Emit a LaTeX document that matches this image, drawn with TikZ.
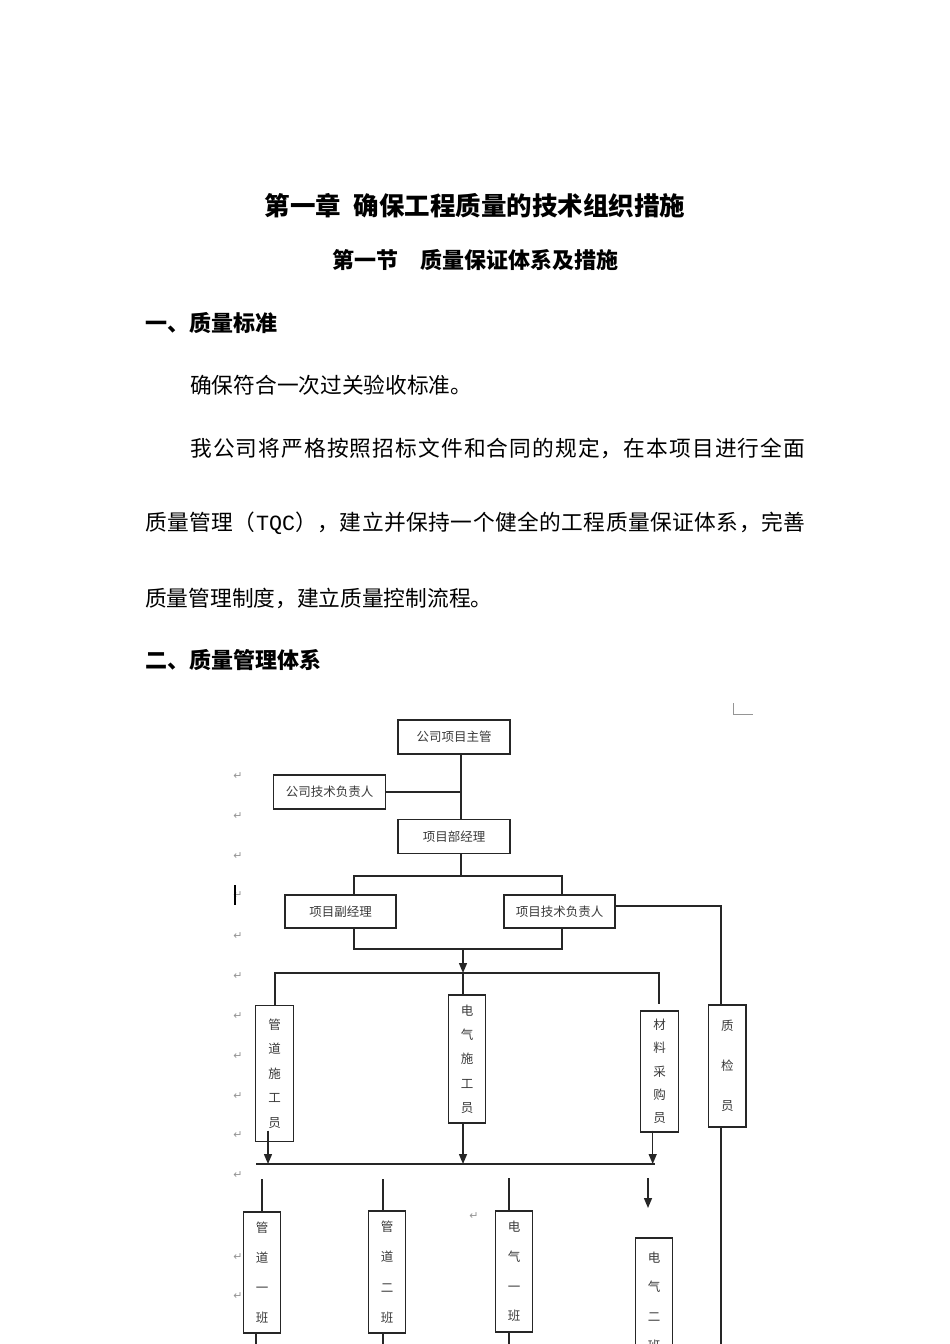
\documentclass[tikz,border=0pt]{standalone}
\usepackage{fontspec}
\setmainfont{Noto Sans CJK SC}
\newfontfamily\cjk{Noto Sans CJK SC}
\newfontfamily\mono{Liberation Mono}
\newfontfamily\sym{DejaVu Sans}
\usetikzlibrary{arrows.meta}
\definecolor{linec}{HTML}{262626}
\definecolor{boxtext}{HTML}{3A3A3A}
\definecolor{markc}{HTML}{959595}
\makeatletter
\def\jline#1#2{\hbox to #1{\j@first#2\relax}}
\def\j@first#1{#1\j@rest}
\def\j@rest#1{\ifx#1\relax\else\hfil#1\expandafter\j@rest\fi}
\makeatother
\newcommand\TQC{{\mono TQC}}
\tikzset{
  conn/.style={draw=linec, line width=1.4pt},
  arr/.style={conn, -{Triangle[length=10pt,width=8pt]}},
  orgbox/.style={draw=linec, line width=1.4pt, inner sep=0pt, text=boxtext},
  hbox/.style={orgbox, minimum width=112pt, minimum height=34pt, font=\fontsize{12.5}{14}\selectfont},
  vbox/.style={orgbox, minimum width=37.5pt, align=center},
  retmark/.style={text=markc, font=\sym\fontsize{11}{12}\selectfont, inner sep=0pt},
  body/.style={anchor=west, inner sep=0pt, font=\fontsize{21.7}{26}\selectfont, text=black},
  head/.style={anchor=west, inner sep=0pt, font=\bfseries\fontsize{22}{26}\selectfont, text=black},
}
\begin{document}
\begin{tikzpicture}[x=1pt, y=-1pt]
\useasboundingbox (0,0) rectangle (950,1344);
\fill[white] (0,0) rectangle (950,1344);
\clip (0,0) rectangle (950,1344);

% ---------- text ----------
\node[inner sep=0pt, font=\bfseries\fontsize{25.5}{30}\selectfont] (title) at (475,206) {第一章\hspace{0.5em}确保工程质量的技术组织措施};
\node[inner sep=0pt, font=\bfseries\fontsize{22}{26}\selectfont] (sub) at (475,260) {第一节\hspace{1em}质量保证体系及措施};
\node[head] (h1) at (145,323) {一、质量标准};
\node[body] (p1) at (190,385) {确保符合一次过关验收标准。};
\node[body] (p2) at (190,448) {\jline{615pt}{我公司将严格按照招标文件和合同的规定，在本项目进行全面}};
\node[body] (p3) at (145,523) {\jline{660pt}{质量管理（\TQC），建立并保持一个健全的工程质量保证体系，完善}};
\node[body] (p4) at (145,598) {质量管理制度，建立质量控制流程。};
\node[head] (h2) at (145,660) {二、质量管理体系};

% ---------- word artifacts ----------
\draw[markc, line width=0.8pt] (733,703) -- (733,714) -- (753,714);
\foreach \yy [count=\i] in {776,816,856,895,936,976,1016,1056,1096,1135,1175,1257,1296}
  \node[retmark] (ret\i) at (238,\yy) {↵};
\node[retmark] (retm) at (474,1216) {↵};
\draw[black, line width=2.4pt] (235,885) -- (235,905);

% ---------- boxes ----------
\node[hbox] (zg)    at (454,737)   {公司项目主管};
\node[hbox] (jsfz)  at (329.5,792) {公司技术负责人};
\node[hbox] (xmjl)  at (454,836.5) {项目部经理};
\node[hbox, minimum width=111pt, minimum height=33pt] (fjl)   at (340.5,911.5) {项目副经理};
\node[hbox, minimum width=111pt, minimum height=33pt] (jsfzr) at (559.5,911.5) {项目技术负责人};

\node[vbox, minimum height=136pt, font=\fontsize{12.5}{24.6}\selectfont] (gdsg) at (274.5,1073.5) {管\\道\\施\\工\\员};
\node[vbox, minimum height=128pt, font=\fontsize{12.5}{24.3}\selectfont] (dqsg) at (467,1059) {电\\气\\施\\工\\员};
\node[vbox, minimum height=121pt, font=\fontsize{12.5}{23.3}\selectfont] (clcg) at (659.5,1071.3) {材\\料\\采\\购\\员};
\node[vbox, minimum height=121.7pt, font=\fontsize{12.5}{40}\selectfont] (zj) at (727.3,1066) {质\\检\\员};

\node[vbox, minimum height=121pt, font=\fontsize{12.5}{30}\selectfont] (gd1) at (262,1272.5) {管\\道\\一\\班};
\node[vbox, minimum height=122pt, font=\fontsize{12.5}{30.5}\selectfont] (gd2) at (387,1272) {管\\道\\二\\班};
\node[vbox, minimum height=121pt, font=\fontsize{12.5}{29.7}\selectfont] (dq1) at (514,1271.5) {电\\气\\一\\班};
\node[vbox, minimum height=128pt, font=\fontsize{12.5}{29.5}\selectfont] (dq2) at (654,1302) {电\\气\\二\\班};

% ---------- helper coordinates ----------
\coordinate (t1) at (461,0);
\coordinate (xA) at (354,876);
\coordinate (xB) at (562,876);
\coordinate (yA) at (354,949);
\coordinate (yB) at (562,949);
\coordinate (m)  at (463,949);
\coordinate (hL) at (275,973);
\coordinate (hR) at (659,973);
\coordinate (qx) at (721,0);
\coordinate (bot) at (0,1360);
\coordinate (h2L) at (256,1164);
\coordinate (h2R) at (655,1164);
\coordinate (u1) at (262,1179);
\coordinate (u2) at (383,1179);
\coordinate (u3) at (509,1178);
\coordinate (u4) at (648,1178);
\coordinate (u4e) at (648,1208);

% ---------- connectors ----------
\draw[conn] (zg.south -| t1) -- (xmjl.north -| t1);
\draw[conn] (jsfz.east) -- (jsfz.east -| t1);
\draw[conn] (xmjl.south -| t1) -- (t1 |- xA);
\draw[conn] (fjl.north -| xA) -- (xA) -- (xB) -- (jsfzr.north -| xB);
\draw[conn] (fjl.south -| yA) -- (yA) -- (yB) -- (jsfzr.south -| yB);
\draw[arr] (m) -- (m |- hL);
\draw[conn] (gdsg.north -| hL) -- (hL) -- (hR) -- (hR |- zj.north);
\draw[conn] (m |- hL) -- (dqsg.north -| m);
\draw[conn] ([yshift=5.5pt]jsfzr.east) -| (zj.north -| qx);
\draw[conn] (zj.south -| qx) -- (qx |- bot);

\draw[arr] ([xshift=-6.5pt,yshift=11.7pt]gdsg.south) -- (268,1164);
\draw[arr] (dqsg.south -| m) -- (m |- h2L);
\draw[arr] ([xshift=-6.8pt,yshift=2pt]clcg.south) -- (652.7,1164);
\draw[conn] (h2L) -- (h2R);

\draw[conn] (u1) -- (u1 |- gd1.north);
\draw[conn] (u2) -- (u2 |- gd2.north);
\draw[conn] (u3) -- (u3 |- dq1.north);
\draw[arr] (u4) -- (u4e);
\draw[conn] ([xshift=-6pt]gd1.south) -- ([xshift=-6pt]gd1.south |- bot);
\draw[conn] (gd2.south -| u2) -- (u2 |- bot);
\draw[conn] (dq1.south -| u3) -- (u3 |- bot);
\end{tikzpicture}
\end{document}
